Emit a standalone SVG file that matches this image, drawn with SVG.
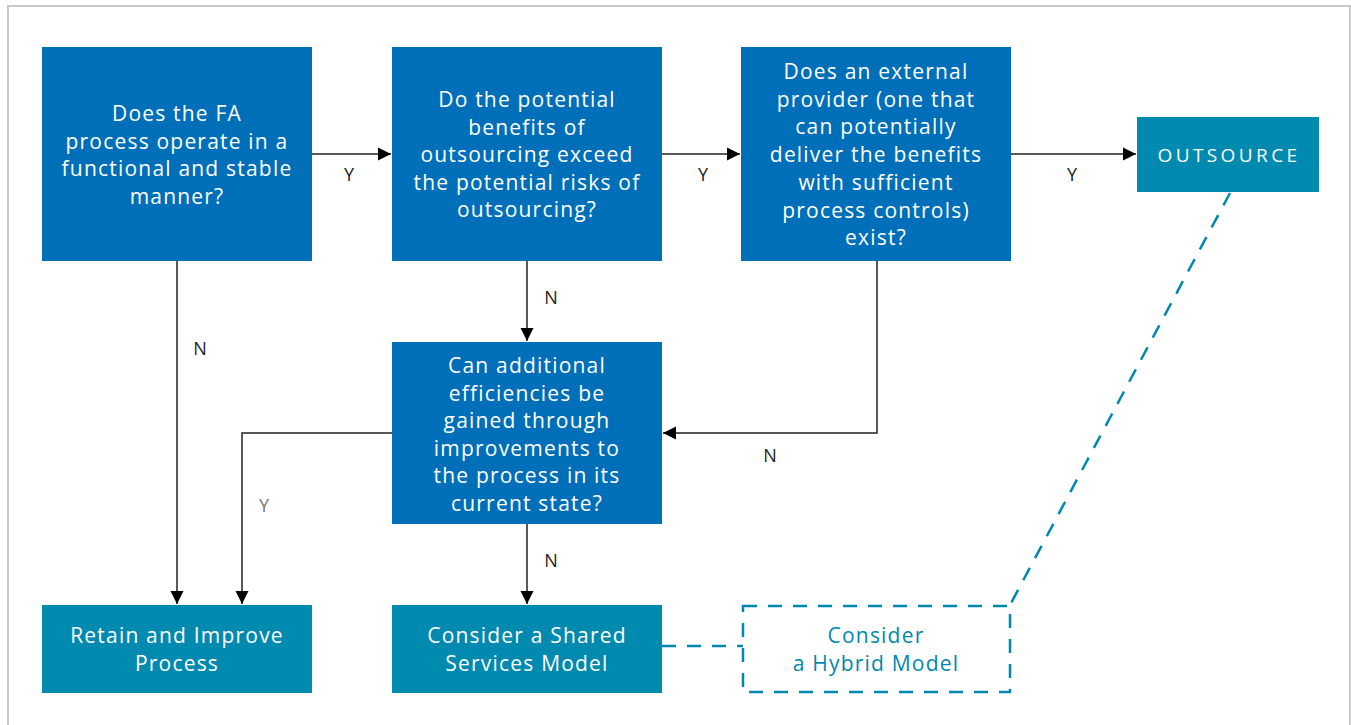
<svg xmlns="http://www.w3.org/2000/svg" width="1351" height="725" viewBox="0 0 1351 725">
<style>
.q{fill:#006FB9}
.t{fill:#008AAF}
.wt{font-family:"Open Sans",sans-serif;font-size:21px;letter-spacing:1.2px;fill:#fff;text-anchor:middle}
.lb{font-family:"Open Sans",sans-serif;font-size:18px;fill:#222;text-anchor:middle}
.ln{stroke:#222;stroke-width:1.5;fill:none}
.dash{stroke:#0089AE;stroke-width:2.5;fill:none;stroke-dasharray:14 11}
</style>
<defs>
<marker id="ah" viewBox="0 0 10 10" refX="10" refY="5" markerWidth="13" markerHeight="14" markerUnits="userSpaceOnUse" orient="auto">
<path d="M0,0 L10,5 L0,10 z" fill="#000"/>
</marker>
</defs>
<rect x="0" y="0" width="1351" height="725" fill="#fff"/>
<rect x="8" y="6" width="1342" height="730" fill="none" stroke="#c8c8c8" stroke-width="2"/>
<g id="connectors">
<path class="ln" d="M312,154 H391" marker-end="url(#ah)"/>
<path class="ln" d="M662,154 H740" marker-end="url(#ah)"/>
<path class="ln" d="M1011,154 H1136" marker-end="url(#ah)"/>
<path class="ln" d="M177,261 V604" marker-end="url(#ah)"/>
<path class="ln" d="M527,261 V341" marker-end="url(#ah)"/>
<path class="ln" d="M877,261 V433 H663" marker-end="url(#ah)"/>
<path class="ln" d="M392,433 H242 V604" marker-end="url(#ah)"/>
<path class="ln" d="M527,524 V604" marker-end="url(#ah)"/>
<path class="dash" d="M662,646 H743"/>
<path class="dash" d="M1230,193 L1010,605"/>
<text class="lb" x="349" y="181">Y</text>
<text class="lb" x="703" y="181">Y</text>
<text class="lb" x="1072" y="181">Y</text>
<text class="lb" x="200" y="355">N</text>
<text class="lb" x="551" y="304">N</text>
<text class="lb" x="770" y="462">N</text>
<text class="lb" x="264" y="512" style="fill:#777">Y</text>
<text class="lb" x="551" y="567">N</text>
</g>
<g id="n1">
<rect class="q" x="42" y="47" width="270" height="214"/>
<text class="wt"><tspan x="177" y="121">Does the FA</tspan><tspan x="177" y="148.5">process operate in a</tspan><tspan x="177" y="176">functional and stable</tspan><tspan x="177" y="203.5">manner?</tspan></text>
</g>
<g id="n2">
<rect class="q" x="392" y="47" width="270" height="214"/>
<text class="wt"><tspan x="527" y="107">Do the potential</tspan><tspan x="527" y="134.5">benefits of</tspan><tspan x="527" y="162">outsourcing exceed</tspan><tspan x="527" y="189.5">the potential risks of</tspan><tspan x="527" y="217">outsourcing?</tspan></text>
</g>
<g id="n3">
<rect class="q" x="741" y="47" width="270" height="214"/>
<text class="wt"><tspan x="876" y="79">Does an external</tspan><tspan x="876" y="106.7">provider (one that</tspan><tspan x="876" y="134.4">can potentially</tspan><tspan x="876" y="162.1">deliver the benefits</tspan><tspan x="876" y="189.8">with sufficient</tspan><tspan x="876" y="217.5">process controls)</tspan><tspan x="876" y="245.2">exist?</tspan></text>
</g>
<g id="n4">
<rect class="t" x="1137" y="117" width="182" height="75"/>
<text class="wt" x="1229" y="162" style="font-size:19px;letter-spacing:3.4px">OUTSOURCE</text>
</g>
<g id="n5">
<rect class="q" x="392" y="342" width="270" height="182"/>
<text class="wt"><tspan x="527" y="373">Can additional</tspan><tspan x="527" y="400.5">efficiencies be</tspan><tspan x="527" y="428">gained through</tspan><tspan x="527" y="455.5">improvements to</tspan><tspan x="527" y="483">the process in its</tspan><tspan x="527" y="510.5">current state?</tspan></text>
</g>
<g id="n6">
<rect class="t" x="42" y="605" width="270" height="88"/>
<text class="wt"><tspan x="177" y="643">Retain and Improve</tspan><tspan x="177" y="671">Process</tspan></text>
</g>
<g id="n7">
<rect class="t" x="392" y="605" width="270" height="88"/>
<text class="wt"><tspan x="527" y="643">Consider a Shared</tspan><tspan x="527" y="671">Services Model</tspan></text>
</g>
<g id="n8">
<rect x="743" y="606" width="267" height="86" fill="none" stroke="#0089AE" stroke-width="2.5" stroke-dasharray="14 11"/>
<text class="wt" style="fill:#0089AE"><tspan x="876" y="643">Consider</tspan><tspan x="876" y="671">a Hybrid Model</tspan></text>
</g>
</svg>
